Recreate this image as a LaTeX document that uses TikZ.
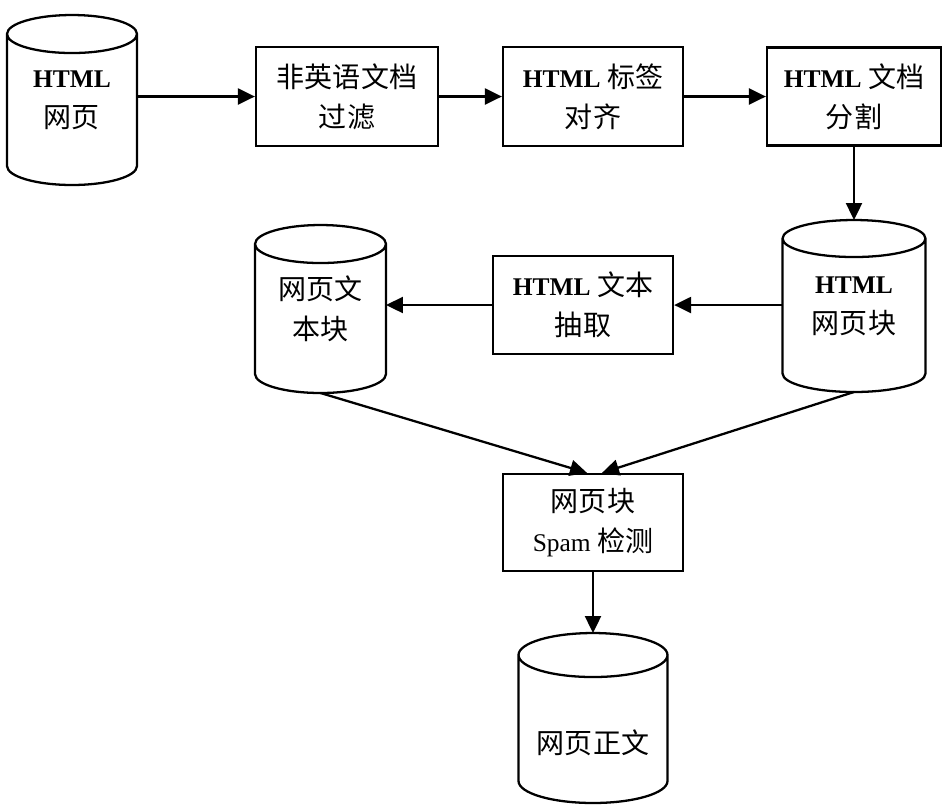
\documentclass[tikz,border=0pt]{standalone}
\usepackage{fontspec}
\setmainfont{Liberation Serif}
\newfontfamily\cjk[Scale=1.1]{Noto Sans CJK SC}
\usetikzlibrary{arrows.meta,calc}

\begin{document}
\begin{tikzpicture}[x=0.02cm, y=-0.02cm,
		font=\fontsize{14.5}{22.7}\selectfont,
		box/.style={draw, line width=1.3pt, align=center, minimum width=3.6cm, minimum height=1.96cm},
		db/.style={align=center, inner sep=0pt, outer sep=0pt},
		arr/.style={line width=1.3pt, -{Triangle[length=3.4mm, width=3.2mm]}}]
		\useasboundingbox (0,0) rectangle (943,806);
		
		\node[db, minimum width=2.6cm, minimum height=3.4cm] (page) at (72,100) {{\bfseries HTML}\\{\cjk 网页}};
		\node[box, minimum width=3.64cm, minimum height=1.98cm] (filter) at (347,96.5) {{\cjk 非英语文档}\\{\cjk 过滤}};
		\node[box, minimum height=1.98cm] (tagfix) at (593,96.5) {{\bfseries HTML} {\cjk 标签}\\{\cjk 对齐}};
		\node[box, minimum width=3.48cm] (split) at (854,96.5) {{\bfseries HTML} {\cjk 文档}\\{\cjk 分割}};
		\node[db, minimum width=2.86cm, minimum height=3.44cm] (blocks) at (854,306) {{\bfseries HTML}\\{\cjk 网页块}};
		\node[box] (extract) at (583,305) {{\bfseries HTML} {\cjk 文本}\\{\cjk 抽取}};
		\node[db, minimum width=2.62cm, minimum height=3.36cm] (texts) at (320.5,309) {{\cjk 网页文}\\{\cjk 本块}};
		\node[box, minimum height=1.94cm] (spamdet) at (593,522.5) {{\cjk 网页块}\\Spam {\cjk 检测}};
		\node[db, minimum width=2.98cm, minimum height=3.4cm, text height=1.52cm, text depth=0.1cm] (body) at (593,718) {{\cjk 网页正文}};
		
		\foreach \cyl/\rx/\ry in {page/1.3/0.38, blocks/1.43/0.37, texts/1.31/0.38, body/1.49/0.44}
			\draw[line width=1.3pt] ([yshift=-\ry cm]\cyl.north) ellipse [x radius=\rx cm, y radius=\ry cm]
				([yshift=-\ry cm]\cyl.north west) -- ([yshift=\ry cm]\cyl.south west)
				arc [start angle=180, end angle=360, x radius=\rx cm, y radius=\ry cm]
				-- ([yshift=-\ry cm]\cyl.north east);
		
		\draw[arr] (page.east |- filter.west) -- (filter.west);
		\draw[arr] (filter.east) -- (tagfix.west);
		\draw[arr] (tagfix.east) -- (split.west);
		\draw[arr] (split.south) -- (blocks.north);
		\draw[arr] (blocks.west |- extract.east) -- (extract.east);
		\draw[arr] (extract.west) -- (texts.east |- extract.west);
		\draw[arr] (texts.south) -- ([xshift=-0.12cm]spamdet.north);
		\draw[arr] (blocks.south) -- ([xshift=0.18cm]spamdet.north);
		\draw[arr] (spamdet.south) -- (body.north);
	\end{tikzpicture}
\end{document}
